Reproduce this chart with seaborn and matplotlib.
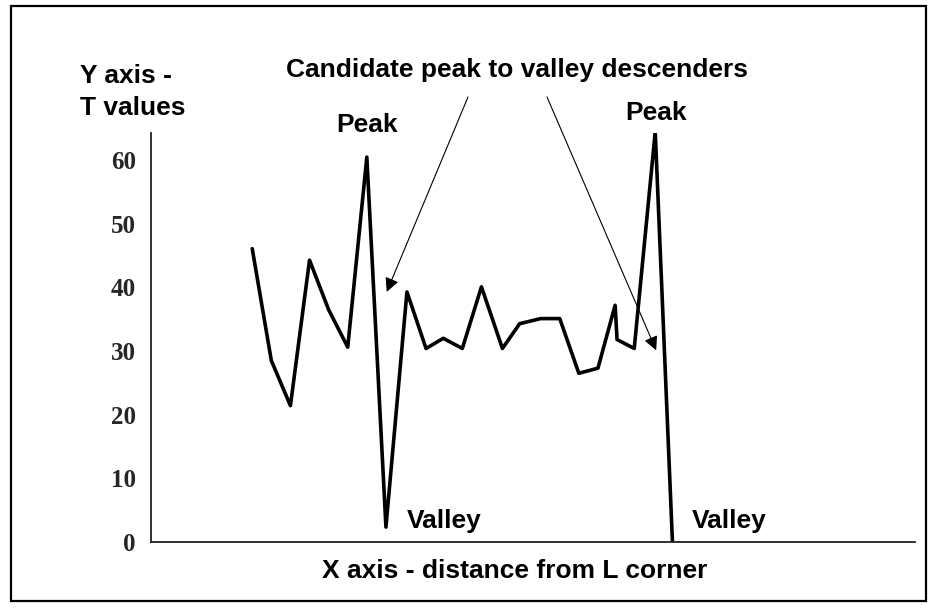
import matplotlib
matplotlib.use("Agg")
import matplotlib.pyplot as plt
import seaborn as sns
import pandas as pd
from matplotlib.patches import Rectangle

# ---- data ----
distance = [5.3, 6.3, 7.3, 8.3, 9.3, 10.3, 11.3, 12.3, 13.4, 14.4, 15.3, 16.3,
            17.3, 18.4, 19.3, 20.4, 21.4, 22.4, 23.4, 24.3, 24.4, 25.3, 26.4, 27.3]
t_values = [46.1, 28.5, 21.4, 44.3, 36.5, 30.6, 60.5, 2.3, 39.3, 30.4, 32.0, 30.4,
            40.1, 30.4, 34.3, 35.1, 35.1, 26.5, 27.3, 37.2, 31.8, 30.4, 64.5, 0.0]
y_ticks = [0, 10, 20, 30, 40, 50, 60]
y_tick_labels = ["0", "10", "20", "30", "40", "50", "60"]
title_text = "Candidate peak to valley descenders"
y_label_lines = ["Y axis -", "T values"]
x_label_text = "X axis - distance from L corner"
peak_label = "Peak"
valley_label = "Valley"

sns.set_style("white")
plt.rcParams['font.family'] = ['Liberation Sans', 'DejaVu Sans']

W, H = 931, 608
def fx(px):
    return px / W
def fy(py):
    return 1 - py / H

fig = plt.figure(figsize=(W / 100, H / 100), dpi=100)
ax = fig.add_axes([fx(151), fy(541.7), (915 - 151) / W, (541.7 - 133) / H])

df = pd.DataFrame({"distance": distance, "T": t_values})
sns.lineplot(data=df, x="distance", y="T", ax=ax, color="black", lw=2.6,
             sort=False, estimator=None)

ax.set_xlim(0, 40)
ax.set_ylim(0, 64.3)
ax.set_xticks([])
ax.set_yticks(y_ticks)
ax.set_yticklabels(y_tick_labels, fontfamily=['Liberation Serif', 'DejaVu Serif'],
                   fontweight='bold', fontsize=18)
ax.tick_params(axis='y', length=0, pad=11)
ax.set_xlabel("")
ax.set_ylabel("")
for s in ["top", "right"]:
    ax.spines[s].set_visible(False)
for s in ["left", "bottom"]:
    ax.spines[s].set_color("#222222")
    ax.spines[s].set_linewidth(1.3)

tkw = dict(fontsize=19, fontweight='bold', color='black', va='baseline')
fig.text(fx(516.5), fy(77), title_text, ha='center', **tkw)
fig.text(fx(80), fy(83), y_label_lines[0], ha='left', **tkw)
fig.text(fx(80), fy(115), y_label_lines[1], ha='left', **tkw)
fig.text(fx(367), fy(132), peak_label, ha='center', **tkw)
fig.text(fx(656), fy(120), peak_label, ha='center', **tkw)
fig.text(fx(407), fy(528), valley_label, ha='left', **tkw)
fig.text(fx(692), fy(528), valley_label, ha='left', **tkw)
fig.text(fx(514.5), fy(578), x_label_text, ha='center', **tkw)

akw = dict(arrowstyle='-|>', color='black', lw=0.8, mutation_scale=21,
           shrinkA=0, shrinkB=0)
ax.annotate("", xy=(12.34, 39.3), xycoords='data',
            xytext=(fx(468), fy(97)), textcoords='figure fraction',
            arrowprops=akw, annotation_clip=False)
ax.annotate("", xy=(26.45, 30.1), xycoords='data',
            xytext=(fx(547), fy(97)), textcoords='figure fraction',
            arrowprops=akw, annotation_clip=False)

border = Rectangle((fx(11), fy(601)), fx(926) - fx(11), fy(6) - fy(601),
                   transform=fig.transFigure, fill=False, lw=1.6, ec='black')
fig.add_artist(border)

fig.savefig("out.png", dpi=100)
